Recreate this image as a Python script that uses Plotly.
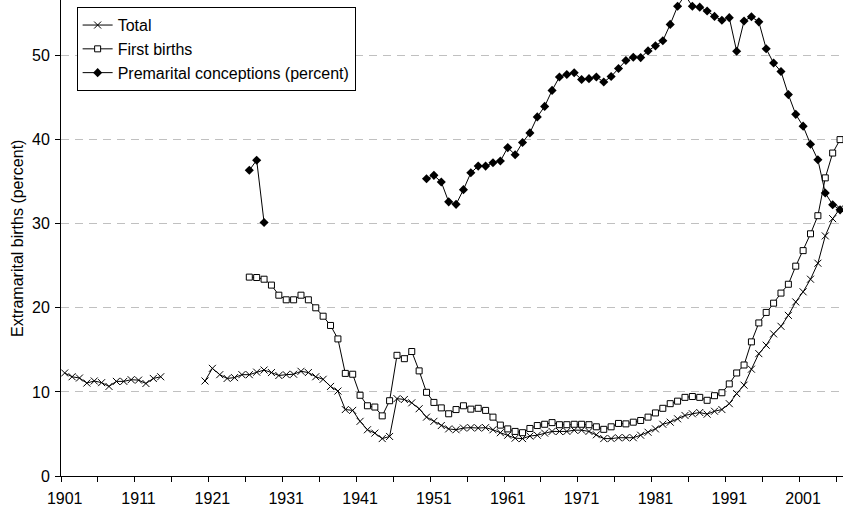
import plotly.graph_objects as go

years = list(range(1901, 2007))

total = [
    12.25, 11.8, 11.65, 11.05, 11.3, 11.1, 10.65, 11.25, 11.25, 11.45,   # 1901-1910
    11.4, 11.0, 11.6, 11.8, None, None, None, None, None, 11.3,          # 1911-1920
    12.8, 12.05, 11.6, 11.7, 12.05, 12.05, 12.35, 12.6, 12.3, 11.95,     # 1921-1930
    12.05, 12.1, 12.45, 12.3, 11.8, 11.5, 10.65, 10.1, 7.9, 7.8,         # 1931-1940
    6.5, 5.5, 5.1, 4.45, 4.7, 9.2, 9.1, 8.7, 8.0, 7.0,                   # 1941-1950
    6.5, 6.0, 5.6, 5.5, 5.7, 5.75, 5.7, 5.75, 5.5, 5.15,                 # 1951-1960
    4.85, 4.5, 4.45, 4.75, 4.85, 5.1, 5.3, 5.3, 5.3, 5.45,               # 1961-1970
    5.45, 5.3, 4.9, 4.45, 4.45, 4.55, 4.55, 4.55, 4.85, 5.2,             # 1971-1980
    5.6, 6.15, 6.4, 6.8, 7.2, 7.4, 7.55, 7.35, 7.7, 7.9,                 # 1981-1990
    8.6, 9.8, 10.8, 12.7, 14.55, 15.55, 16.9, 17.8, 19.1, 20.7,          # 1991-2000
    21.9, 23.4, 25.3, 28.55, 30.6, 31.8,                                 # 2001-2006
]

first_births = [None] * 25 + [                                           # 1901-1925
    23.65, 23.6, 23.4, 22.7, 21.5,                                       # 1926-1930
    20.95, 20.95, 21.5, 20.95, 20.0, 19.0, 17.9, 16.3, 12.2, 12.1,       # 1931-1940
    9.6, 8.35, 8.2, 7.15, 8.95, 14.35, 13.95, 14.8, 12.5, 9.95,          # 1941-1950
    8.75, 8.1, 7.4, 7.9, 8.35, 7.95, 8.05, 7.8, 7.0, 6.05,               # 1951-1960
    5.6, 5.3, 5.15, 5.65, 6.0, 6.15, 6.35, 6.1, 6.1, 6.15,               # 1961-1970
    6.15, 6.1, 5.85, 5.55, 5.85, 6.25, 6.2, 6.4, 6.6, 7.0,               # 1971-1980
    7.5, 8.05, 8.6, 8.9, 9.35, 9.45, 9.35, 9.0, 9.55, 9.9,               # 1981-1990
    10.95, 12.25, 13.2, 15.95, 18.2, 19.45, 20.55, 21.75, 22.8, 24.95,   # 1991-2000
    26.8, 28.8, 30.95, 35.45, 38.4, 40.0,                                # 2001-2006
]

premarital = [None] * 25 + [                                             # 1901-1925
    36.35, 37.55, 30.15, None, None,                                     # 1926-1930
    None, None, None, None, None, None, None, None, None, None,          # 1931-1940
    None, None, None, None, None, None, None, None, None, 35.35,         # 1941-1950
    35.75, 34.95, 32.6, 32.3, 34.05, 36.05, 36.85, 36.85, 37.25, 37.45,  # 1951-1960
    39.05, 38.2, 39.65, 40.8, 42.7, 43.95, 45.85, 47.45, 47.75, 47.95,   # 1961-1970
    47.15, 47.25, 47.45, 46.85, 47.5, 48.45, 49.4, 49.8, 49.75, 50.55,   # 1971-1980
    51.15, 51.75, 53.7, 55.85, 57.2, 55.85, 55.75, 55.3, 54.65, 54.2,    # 1981-1990
    54.5, 50.5, 54.1, 54.6, 54.0, 50.8, 49.1, 48.1, 45.35, 43.0,         # 1991-2000
    41.6, 39.45, 37.6, 33.65, 32.25, 31.65,                              # 2001-2006
]

label_years = list(range(1901, 2002, 10))
boundary_ticks = [y - 0.5 for y in range(1901, 2007, 5)]
y_ticks = [0, 10, 20, 30, 40, 50]
y_title = "Extramarital births (percent)"

FONT = "Liberation Sans, Arial, sans-serif"

fig = go.Figure()
fig.add_trace(go.Scatter(
    x=years, y=total, name="Total", mode="lines+markers",
    line=dict(color="black", width=1),
    marker=dict(symbol="x-thin", size=7, line=dict(color="black", width=1)),
    connectgaps=False,
))
fig.add_trace(go.Scatter(
    x=years, y=first_births, name="First births", mode="lines+markers",
    line=dict(color="black", width=1),
    marker=dict(symbol="square", size=6, color="white", line=dict(color="black", width=1)),
    connectgaps=False,
))
fig.add_trace(go.Scatter(
    x=years, y=premarital, name="Premarital conceptions (percent)", mode="lines+markers",
    line=dict(color="black", width=1),
    marker=dict(symbol="diamond", size=7, color="black"),
    connectgaps=False,
))

fig.update_layout(
    width=843, height=510,
    margin=dict(l=61, r=0, t=0, b=34, autoexpand=False),
    paper_bgcolor="white", plot_bgcolor="white",
    font=dict(family=FONT, size=16, color="black"),
    showlegend=True,
    legend=dict(
        x=0.02, y=0.985, xanchor="left", yanchor="top",
        bgcolor="white", bordercolor="black", borderwidth=1,
        font=dict(family=FONT, size=16, color="black"),
        tracegroupgap=0,
    ),
    xaxis=dict(
        range=[1900.5, 2006.4], automargin=False,
        tickmode="array", tickvals=label_years, ticktext=[str(v) for v in label_years],
        ticks="", showgrid=False, zeroline=False,
        showline=True, linecolor="black", linewidth=1,
        ticklabelstandoff=8,
        minor=dict(tickmode="array", tickvals=boundary_ticks, ticks="outside",
                   ticklen=5, tickcolor="black", tickwidth=1, showgrid=False),
        tickfont=dict(family=FONT, size=16, color="black"),
    ),
    yaxis=dict(
        range=[0, 56.6], automargin=False,
        tickmode="array", tickvals=y_ticks,
        ticks="outside", ticklen=5, tickcolor="black",
        ticklabelstandoff=2,
        showgrid=True, gridcolor="#c0c0c0", griddash="8px,6px", gridwidth=1,
        zeroline=False, showline=True, linecolor="black", linewidth=1,
        tickfont=dict(family=FONT, size=16, color="black"),
    ),
    annotations=[dict(
        text=y_title, textangle=-90, showarrow=False,
        xref="paper", yref="paper", x=-0.0563, y=0.5,
        xanchor="center", yanchor="middle",
        font=dict(family=FONT, size=16, color="black"),
    )],
)

fig.write_html("out.html", config={"displayModeBar": False},
               post_script="document.body.style.margin='0px';document.body.style.overflow='hidden';")
